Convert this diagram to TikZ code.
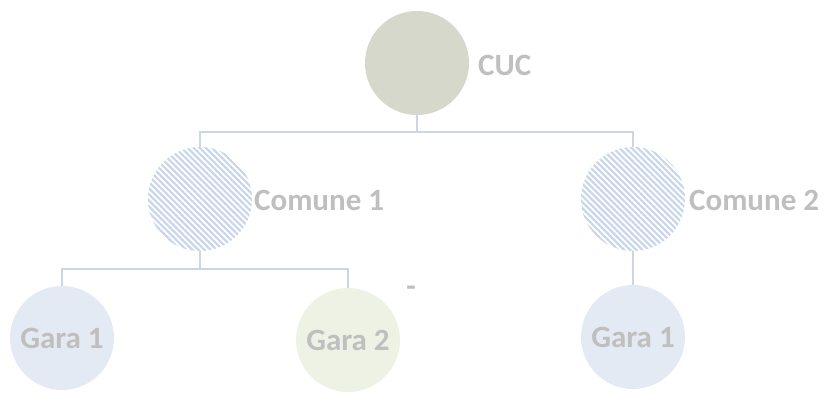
\documentclass[tikz,border=0pt]{standalone}
\usepackage{fontspec}
\setmainfont{Carlito}
\usetikzlibrary{patterns.meta,calc}
\definecolor{linec}{HTML}{CBD6E8}
\definecolor{txtc}{HTML}{BFBFBF}
\definecolor{cucfill}{HTML}{D5D8CA}
\definecolor{garablue}{HTML}{E4EAF4}
\definecolor{garagreen}{HTML}{EEF2E5}
\definecolor{hatchc}{HTML}{C9D6EA}
\tikzset{
  ball/.style={circle,minimum size=104pt,inner sep=0pt,outer sep=0pt,
    font=\fontsize{31}{37}\selectfont\bfseries,text=txtc},
  hatched/.style={ball,fill=white,pattern={Lines[angle=-45,distance=4.3pt,line width=2.2pt]},pattern color=hatchc},
  lbl/.style={anchor=west,inner sep=0pt,font=\fontsize{31}{37}\selectfont\bfseries,text=txtc},
  conn/.style={draw=linec,line width=2pt}
}
\begin{document}
\begin{tikzpicture}[x=1pt,y=-1pt]
\useasboundingbox (0,0) rectangle (830,392);
\node[ball,fill=cucfill] (cuc) at (417,63) {};
\node[lbl] (cuclbl) at (478,65) {CUC};
\node[hatched] (c1) at (200,199) {};
\node[lbl] (c1lbl) at (254,200) {Comune 1};
\node[hatched] (c2) at (633,199) {};
\node[lbl] (c2lbl) at (689,200) {Comune 2};
\node[ball,fill=garablue] (g1) at (62,338) {Gara 1};
\node[ball,fill=garagreen] (g2) at (348,340) {Gara 2};
\node[ball,fill=garablue] (g3) at (633,337) {Gara 1};
\node[lbl,anchor=center] (dash) at (411,291) {-};
\draw[conn] (cuc.south) -- (cuc.south |- 0,132);
\draw[conn] (c1.north) -- (c1.north |- 0,132) -| (c2.north);
\draw[conn] (c1.south) -- (c1.south |- 0,269);
\draw[conn] (g1.north) -- (g1.north |- 0,269) -| (g2.north);
\draw[conn] (c2.south) -- (g3.north);
\end{tikzpicture}
\end{document}
